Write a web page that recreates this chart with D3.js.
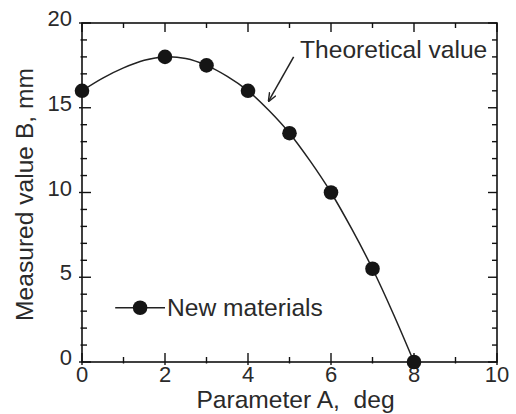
<!DOCTYPE html>
<html>
<head>
<meta charset="utf-8">
<script src="https://cdn.jsdelivr.net/npm/d3@7"></script>
<style>
  body { margin: 0; background: #fff; }
  text { font-family: "Liberation Sans", Arial, sans-serif; fill: #2a2a2a; }
</style>
</head>
<body>
<div id="chart"></div>
<script>
// measured points
var paramA = [0, 2, 3, 4, 5, 6, 7, 8];
var measuredB = [16, 18, 17.5, 16, 13.5, 10, 5.5, 0];

// theoretical curve
var theoX = [0, 0.5, 1, 1.5, 2, 2.5, 3, 3.5, 4, 4.5, 5, 5.5, 6, 6.5, 7, 7.5, 8];
var theoY = [16, 16.75, 17.35, 17.8, 18, 17.9, 17.5, 16.85, 16, 14.85, 13.5, 11.85, 10, 7.85, 5.5, 2.85, 0];

var xMajor = [0, 2, 4, 6, 8, 10];
var yMajor = [0, 5, 10, 15, 20];

var svgWidth = 516;
var svgHeight = 414;
var margin = { top: 23, right: 19, bottom: 52, left: 82 };
var width = svgWidth - margin.left - margin.right;
var height = svgHeight - margin.top - margin.bottom;

var svg = d3.select("#chart")
  .append("svg")
  .attr("width", svgWidth)
  .attr("height", svgHeight);

var chartGroup = svg.append("g")
  .attr("transform", `translate(${margin.left}, ${margin.top})`);

var x = d3.scaleLinear().domain([0, 10]).range([0, width]);
var y = d3.scaleLinear().domain([0, 20]).range([height, 0]);

var minorX = d3.range(0, 11, 1);
var minorY = d3.range(0, 21, 1);

// frame
chartGroup.append("rect")
  .attr("width", width)
  .attr("height", height)
  .attr("fill", "none")
  .attr("stroke", "#111")
  .attr("stroke-width", 1.6);

// ticks, mostly inward, poking out a little
function tickLen(v, majors) { return majors.indexOf(v) >= 0 ? 9 : 5; }
function tickOut(v, majors) { return majors.indexOf(v) >= 0 ? 3 : 1.5; }

chartGroup.selectAll(".xtb").data(minorX).enter().append("line")
  .attr("x1", d => x(d)).attr("x2", d => x(d))
  .attr("y1", d => height + tickOut(d, xMajor)).attr("y2", d => height - tickLen(d, xMajor))
  .attr("stroke", "#111").attr("stroke-width", 1.4);
chartGroup.selectAll(".xtt").data(minorX).enter().append("line")
  .attr("x1", d => x(d)).attr("x2", d => x(d))
  .attr("y1", 0).attr("y2", d => tickLen(d, xMajor))
  .attr("stroke", "#111").attr("stroke-width", 1.4);
chartGroup.selectAll(".ytl").data(minorY).enter().append("line")
  .attr("y1", d => y(d)).attr("y2", d => y(d))
  .attr("x1", d => -tickOut(d, yMajor)).attr("x2", d => tickLen(d, yMajor))
  .attr("stroke", "#111").attr("stroke-width", 1.4);
chartGroup.selectAll(".ytr").data(minorY).enter().append("line")
  .attr("y1", d => y(d)).attr("y2", d => y(d))
  .attr("x1", width).attr("x2", d => width - tickLen(d, yMajor))
  .attr("stroke", "#111").attr("stroke-width", 1.4);

// tick labels
chartGroup.selectAll(".xl").data(xMajor).enter().append("text")
  .attr("x", d => x(d)).attr("y", height + 20)
  .attr("text-anchor", "middle")
  .attr("font-size", "22px")
  .text(d => d);
chartGroup.selectAll(".yl").data(yMajor).enter().append("text")
  .attr("x", -10).attr("y", d => y(d) + 3)
  .attr("text-anchor", "end")
  .attr("font-size", "22px")
  .text(d => d);

// theoretical curve
var line = d3.line()
  .x((d, i) => x(theoX[i]))
  .y(d => y(d))
  .curve(d3.curveCatmullRom);

chartGroup.append("path")
  .datum(theoY)
  .attr("d", line)
  .attr("fill", "none")
  .attr("stroke", "#222")
  .attr("stroke-width", 1.5);

// measured points
chartGroup.selectAll(".pt").data(measuredB).enter().append("circle")
  .attr("cx", (d, i) => x(paramA[i]))
  .attr("cy", d => y(d))
  .attr("r", 7.3)
  .attr("fill", "#151515");

// annotation with arrow
svg.append("defs").append("marker")
  .attr("id", "arrow")
  .attr("viewBox", "0 0 10 10")
  .attr("refX", 9).attr("refY", 5)
  .attr("markerWidth", 9).attr("markerHeight", 9)
  .attr("markerUnits", "userSpaceOnUse")
  .attr("orient", "auto")
  .append("path")
  .attr("d", "M0,1 L10,5 L0,9")
  .attr("fill", "none")
  .attr("stroke", "#222")
  .attr("stroke-width", 1.6);

chartGroup.append("text")
  .attr("x", 218).attr("y", 35)
  .attr("font-size", "24.6px")
  .text("Theoretical value");

chartGroup.append("line")
  .attr("x1", x(5.1)).attr("y1", y(18.0))
  .attr("x2", x(4.5)).attr("y2", y(15.4))
  .attr("stroke", "#222")
  .attr("stroke-width", 1.5)
  .attr("marker-end", "url(#arrow)");

// legend
var legendY = y(3.2);
chartGroup.append("line")
  .attr("x1", x(0.8)).attr("x2", x(2))
  .attr("y1", legendY).attr("y2", legendY)
  .attr("stroke", "#222").attr("stroke-width", 1.5);
chartGroup.append("circle")
  .attr("cx", x(1.4)).attr("cy", legendY)
  .attr("r", 7.3).attr("fill", "#151515");
chartGroup.append("text")
  .attr("x", x(2.05)).attr("y", legendY + 8)
  .attr("font-size", "24.6px")
  .text("New materials");

// axis titles
chartGroup.append("text")
  .attr("x", width / 2 + 6).attr("y", height + 46)
  .attr("text-anchor", "middle")
  .attr("font-size", "24.6px")
  .attr("xml:space", "preserve")
  .text("Parameter A,  deg");

chartGroup.append("text")
  .attr("transform", "rotate(-90)")
  .attr("x", -height / 2 - 2).attr("y", -49)
  .attr("text-anchor", "middle")
  .attr("font-size", "24.6px")
  .text("Measured value B, mm");
</script>
</body>
</html>
